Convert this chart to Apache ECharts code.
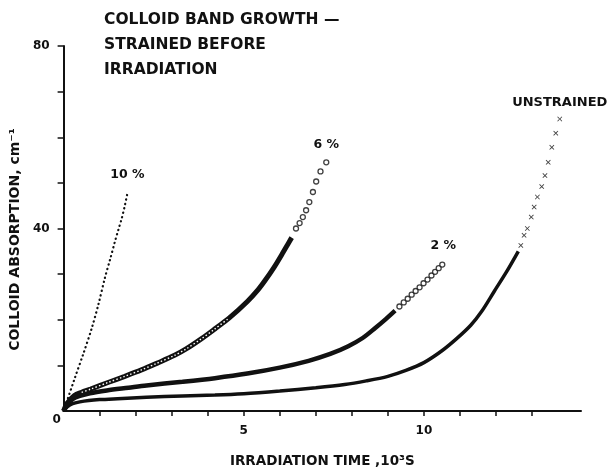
<!DOCTYPE html>
<html><head><meta charset="utf-8">
<script src="https://cdn.jsdelivr.net/npm/echarts@6/dist/echarts.min.js"></script>
<style>html,body{margin:0;padding:0;background:#fff}#c{width:607px;height:473px}</style>
</head><body><div id="c"></div>
<script>
// ---- text ----
const titleText = 'COLLOID BAND GROWTH —\nSTRAINED BEFORE\nIRRADIATION';
const xAxisName = 'IRRADIATION TIME ,10³S';
const yAxisName = 'COLLOID ABSORPTION, cm⁻¹';
const curveNames = ['UNSTRAINED', '2 %', '6 %', '10 %'];

// ---- ticks ----
const xTickValues = [1, 2, 3, 4, 5, 6, 7, 8, 9, 10, 11, 12, 13];
const xLabelValues = [0, 5, 10];
const yTickValues = [10, 20, 30, 40, 50, 60, 70, 80];
const yLabelValues = [40, 80];

// ---- data: [time (10^3 s), absorption (cm^-1)] ----
const unstrainedDense = [[0,0],[0.1,0.9],[0.25,1.6],[0.45,2.0],[0.7,2.3],[1.0,2.5],[1.5,2.7],[2.3,3.0],[3.3,3.3],[4.2,3.5],[5.0,3.8],[6.0,4.4],[7.0,5.1],[7.8,5.8],[8.4,6.6],[9.0,7.6],[9.5,8.9],[10.0,10.6],[10.5,13.2],[10.9,15.8],[11.3,18.8],[11.6,21.8],[11.95,26.2],[12.3,30.6],[12.62,35.0]];
const unstrainedSparse = [[12.69,36.3],[12.78,38.5],[12.87,40.0],[12.98,42.5],[13.06,44.7],[13.15,46.9],[13.27,49.2],[13.36,51.6],[13.45,54.5],[13.55,57.8],[13.66,60.9],[13.77,64.0]];
const twoDense = [[0,0],[0.1,1.4],[0.25,2.6],[0.45,3.3],[0.73,3.9],[1.2,4.5],[1.8,5.1],[2.3,5.6],[3.3,6.4],[4.2,7.2],[5.1,8.2],[6.0,9.5],[6.8,11.0],[7.4,12.5],[7.9,14.2],[8.3,16.0],[8.65,18.2],[8.95,20.2],[9.2,22.0]];
const twoSparse = [[9.32,22.9],[9.44,23.8],[9.55,24.6],[9.66,25.5],[9.77,26.3],[9.88,27.1],[9.99,28.0],[10.1,28.8],[10.21,29.7],[10.31,30.5],[10.41,31.3],[10.51,32.1]];
const sixDense = [[0,0],[0.1,1.7],[0.3,3.4],[0.5,4.1],[0.75,4.8],[1.25,6.3],[1.7,7.6],[2.16,9.0],[2.6,10.5],[3.08,12.2],[3.4,13.6],[3.82,15.8],[4.2,18.0],[4.6,20.4],[5.1,24.0],[5.4,26.6],[5.6,28.7],[5.85,31.6],[6.05,34.2],[6.22,36.5],[6.33,38.0]];
const sixSparse = [[6.45,40.0],[6.55,41.2],[6.64,42.5],[6.73,44.0],[6.82,45.8],[6.92,48.0],[7.01,50.3],[7.13,52.5],[7.29,54.5]];
const tenPoints = [[0,0],[0.31,7.2],[0.55,12.6],[0.78,18.1],[0.97,23.5],[1.14,29.0],[1.3,33.5],[1.42,37.0],[1.53,40.0],[1.61,42.1],[1.69,44.7],[1.77,47.7]];

const INK = '#111';
const FONT = 'DejaVu Sans';
const X_PATH = 'path://M0,1.2L1.2,0L5,3.8L8.8,0L10,1.2L6.2,5L10,8.8L8.8,10L5,6.2L1.2,10L0,8.8L3.8,5Z';
const circleStyle = { color: '#fff', borderColor: INK, borderWidth: 1.3 };

const last = a => a[a.length - 1];
const labelAnchors = [
  { value: last(unstrainedSparse), name: curveNames[0], label: { distance: 10, fontSize: 13 } },
  { value: last(twoSparse), name: curveNames[1], label: { distance: 12, offset: [1, 0] } },
  { value: last(sixSparse), name: curveNames[2], label: { distance: 11 } },
  { value: last(tenPoints), name: curveNames[3], label: { distance: 12, offset: [0, 0] } }
];

const chart = echarts.init(document.getElementById('c'), null, { renderer: 'canvas' });
chart.setOption({
  animation: false,
  backgroundColor: '#fff',
  title: {
    text: titleText, left: 104, top: 7, padding: 0,
    textStyle: { fontFamily: FONT, fontSize: 15.5, fontWeight: 'bold', color: INK, lineHeight: 25 }
  },
  grid: { left: 61, right: 26, top: 46, bottom: 60 },
  xAxis: {
    type: 'value', min: 0, max: 14.36,
    name: xAxisName, nameLocation: 'middle', nameGap: 43,
    nameTextStyle: { fontFamily: FONT, fontSize: 13.5, fontWeight: 'bold', color: INK },
    axisLine: { show: true, onZero: false, lineStyle: { color: INK, width: 2 } },
    axisTick: { show: true, customValues: xTickValues, length: 5, lineStyle: { color: INK, width: 1.5 } },
    axisLabel: {
      customValues: xLabelValues, margin: 3,
      formatter: v => v === 0 ? '{z|0}' : '{n|' + v + '}',
      rich: {
        z: { fontFamily: FONT, fontSize: 12, fontWeight: 'bold', color: INK, padding: [0, 14, 0, 0] },
        n: { fontFamily: FONT, fontSize: 12, fontWeight: 'bold', color: INK, padding: [11, 0, 0, 0] }
      }
    },
    splitLine: { show: false }
  },
  yAxis: {
    type: 'value', min: 0, max: 80,
    name: yAxisName, nameLocation: 'middle', nameGap: 40,
    nameTextStyle: { fontFamily: FONT, fontSize: 14, fontWeight: 'bold', color: INK, padding: [0, 22, 0, 0] },
    axisLine: { show: true, lineStyle: { color: INK, width: 2 } },
    axisTick: { show: true, customValues: yTickValues, length: 6, lineStyle: { color: INK, width: 1.5 } },
    axisLabel: { customValues: yLabelValues, margin: 14, fontFamily: FONT, fontSize: 12, fontWeight: 'bold', color: INK },
    splitLine: { show: false }
  },
  series: [
    { type: 'line', data: unstrainedDense, smooth: 0.3, symbol: 'none', lineStyle: { color: INK, width: 3.5 }, z: 2 },
    { type: 'scatter', data: unstrainedSparse, symbol: X_PATH, symbolSize: 5, itemStyle: { color: INK }, z: 3 },
    { type: 'line', data: twoDense, smooth: 0.3, symbol: 'none', lineStyle: { color: INK, width: 4.5 }, z: 2 },
    { type: 'scatter', data: twoSparse, symbol: 'circle', symbolSize: 5, itemStyle: circleStyle, z: 3 },
    { type: 'line', data: sixDense, smooth: 0.3, symbol: 'none', lineStyle: { color: INK, width: 5 }, z: 2 },
    { type: 'line', data: sixDense.filter(p => p[0] >= 0.4 && p[0] <= 5.0), smooth: 0.3, symbol: 'none',
      lineStyle: { color: '#fff', width: 1.4, type: [1.5, 2.2] }, z: 3 },
    { type: 'scatter', data: sixSparse, symbol: 'circle', symbolSize: 5, itemStyle: circleStyle, z: 3 },
    { type: 'line', data: tenPoints, smooth: 0.3, symbol: 'none',
      lineStyle: { color: INK, width: 2.2, type: [0.3, 4.2], cap: 'round' }, z: 2 },
    { type: 'scatter', data: labelAnchors, symbolSize: 0.5, itemStyle: { color: '#fff', opacity: 1 }, z: 4,
      emphasis: { disabled: true },
      label: { show: true, position: 'top', formatter: p => p.name, fontFamily: FONT, fontSize: 12.5, fontWeight: 'bold', color: INK, opacity: 1 } }
  ]
});
</script></body></html>
